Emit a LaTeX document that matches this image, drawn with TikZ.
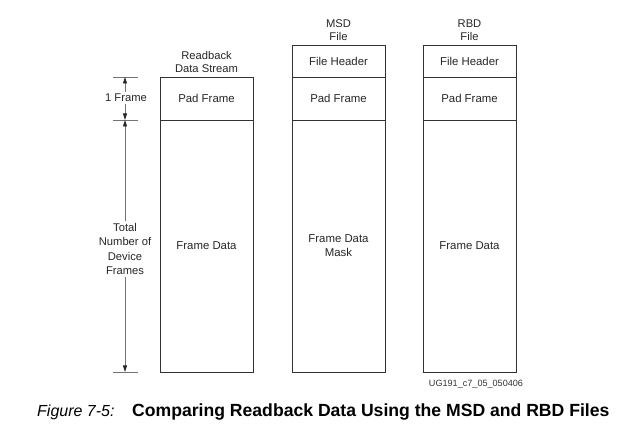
\documentclass[tikz,border=0pt]{standalone}
\usepackage{fontspec}
\setmainfont{Liberation Sans}
\usetikzlibrary{positioning,arrows.meta}
\tikzset{
  cell/.style={draw=black!80, line width=0.95pt, minimum width=93pt, inner sep=0pt,
    outer sep=0pt, align=center, text=black!85, font=\fontsize{11.4}{14}\selectfont},
  heading/.style={align=center, inner sep=1pt, text=black!85, font=\fontsize{11.2}{13}\selectfont},
  dimtext/.style={align=center, inner sep=2pt, text=black!85, font=\fontsize{11.2}{14.2}\selectfont},
  dimline/.style={draw=black!55, line width=0.8pt},
  dimarrow/.style={dimline, -{Triangle[length=6.5pt,width=4pt,color=black!85]}}
}
\begin{document}
\begin{tikzpicture}[x=1pt, y=-1pt]
  \useasboundingbox (0,0) rectangle (625,427);

  % readback stream
  \node[cell, minimum height=43pt, anchor=north west] (rpad) at (160,77) {Pad Frame};
  \node[cell, minimum height=252pt, below=0pt of rpad] (rdata) {Frame Data};
  \node[heading, above=3pt of rpad] {Readback\\Data Stream};

  % MSD file
  \node[cell, minimum height=32pt, anchor=north west] (mhead) at (292,45) {File Header};
  \node[cell, minimum height=43pt, below=0pt of mhead] (mpad) {Pad Frame};
  \node[cell, minimum height=252pt, below=0pt of mpad] (mdata) {Frame Data\\Mask};
  \node[heading, above=3pt of mhead] {MSD\\File};

  % RBD file
  \node[cell, minimum height=32pt, anchor=north west] (bhead) at (423,45) {File Header};
  \node[cell, minimum height=43pt, below=0pt of bhead] (bpad) {Pad Frame};
  \node[cell, minimum height=252pt, below=0pt of bpad] (bdata) {Frame Data};
  \node[heading, above=3pt of bhead] {RBD\\File};

  % dimension on the left
  \foreach \y/\name in {77/ttop, 120/tmid, 372/tbot}
  {
    \coordinate (\name) at (125,\y);
    \draw[dimline] (113,\y) -- (138,\y);
  }
  \node[dimtext] (oneframe) at (126,98) {1 Frame};
  \draw[dimarrow] (oneframe.north -| ttop) -- (ttop);
  \draw[dimarrow] (oneframe.south -| ttop) -- (tmid);

  \node[dimtext] (total) at (125,249) {Total\\Number of\\Device\\Frames};
  \draw[dimarrow] (total.north) -- (tmid);
  \draw[dimarrow] (total.south) -- (tbot);

  \node[font=\fontsize{9.1}{10}\selectfont, black!80] (figid) at (476,384) {UG191\_c7\_05\_050406};

  % caption
  \node[anchor=base west, inner sep=0pt, font=\fontsize{16}{18}\selectfont\itshape] (figno) at (37,417) {Figure 7-5:};
  \node[anchor=base west, inner sep=0pt, font=\fontsize{17.6}{19}\selectfont\bfseries] (figcap) at (132,417) {Comparing Readback Data Using the MSD and RBD Files};
\end{tikzpicture}
\end{document}
